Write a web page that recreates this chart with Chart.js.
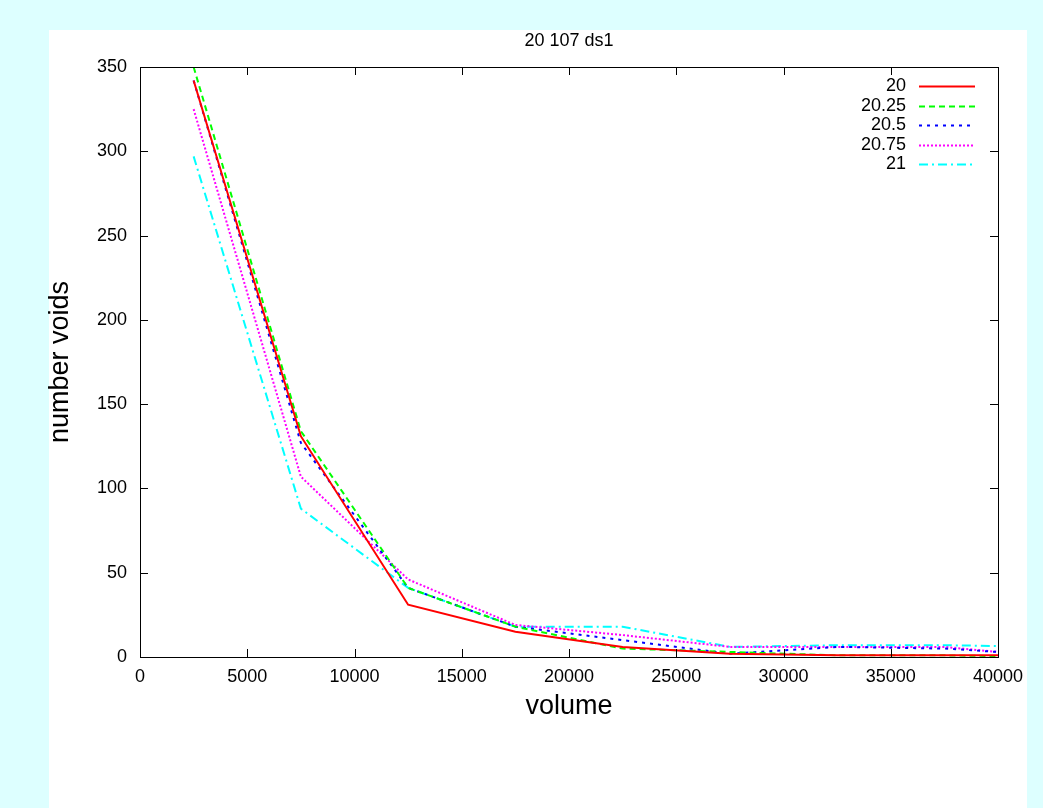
<!DOCTYPE html>
<html>
<head>
<meta charset="utf-8">
<script src="https://cdn.jsdelivr.net/npm/chart.js"></script>
<style>
  body { margin: 0; background: #ddffff; overflow: hidden; }
  #panel { position: absolute; left: 49px; top: 30px; width: 978px; height: 778px; background: #fff; }
  #myChart { position: absolute; left: 0; top: 0; }
</style>
</head>
<body>
<div id="panel"></div>
<canvas id="myChart" width="1043" height="808"></canvas>
<script>
// volumes (bin centres), last one sits past the axis end and gets clipped
const volumes = [2500, 7500, 12500, 17500, 22500, 27500, 32500, 37500, 42500];

const v20   = [342, 131, 31, 15, 6, 2, 1, 1, 1];
const v2025 = [350, 134, 41, 18, 5, 3, 1, 1, 0];
const v205  = [342, 127, 41, 18, 10, 2, 6, 5, 1];
const v2075 = [325, 107, 46, 19, 13, 6, 6, 6, 0];
const v21   = [297, 88, 41, 18, 18, 6, 7, 7, 6];

const seriesNames = ['20', '20.25', '20.5', '20.75', '21'];
const xTicks = [0, 5000, 10000, 15000, 20000, 25000, 30000, 35000, 40000];
const yTicks = [0, 50, 100, 150, 200, 250, 300, 350];

const FONT = '"Liberation Sans", Arial, sans-serif';

function pts(vals) {
  return volumes.map((v, i) => ({x: v, y: vals[i]}));
}

const styles = [
  {color: '#ff0000', dash: []},
  {color: '#00ff00', dash: [6, 4]},
  {color: '#0000ff', dash: [3, 5]},
  {color: '#ff00ff', dash: [2, 2]},
  {color: '#00ffff', dash: [9, 4, 2, 4]}
];
const allVals = [v20, v2025, v205, v2075, v21];

const datasets = allVals.map((vals, i) => ({
  label: seriesNames[i],
  data: pts(vals),
  borderColor: styles[i].color,
  borderDash: styles[i].dash,
  borderWidth: 2,
  pointRadius: 0,
  fill: false,
  tension: 0
}));

// box, inward ticks, title and gnuplot-ish legend
const gnuplotBits = {
  id: 'gnuplotBits',
  afterDraw(chart) {
    const ctx = chart.ctx;
    const a = chart.chartArea;
    const xs = chart.scales.x, ys = chart.scales.y;
    ctx.save();
    ctx.strokeStyle = '#000';
    ctx.lineWidth = 1;
    ctx.setLineDash([]);
    ctx.strokeRect(a.left + 0.5, a.top + 0.5, a.right - a.left, a.bottom - a.top);
    ctx.beginPath();
    xTicks.forEach(t => {
      const px = Math.round(xs.getPixelForValue(t)) + 0.5;
      ctx.moveTo(px, a.bottom); ctx.lineTo(px, a.bottom - 8);
      ctx.moveTo(px, a.top); ctx.lineTo(px, a.top + 8);
    });
    yTicks.forEach(t => {
      const py = Math.round(ys.getPixelForValue(t)) + 0.5;
      ctx.moveTo(a.left, py); ctx.lineTo(a.left + 8, py);
      ctx.moveTo(a.right, py); ctx.lineTo(a.right - 8, py);
    });
    ctx.stroke();

    ctx.fillStyle = '#000';
    ctx.font = '18px ' + FONT;
    ctx.textAlign = 'center';
    ctx.textBaseline = 'middle';
    ctx.fillText('20 107 ds1', (a.left + a.right) / 2, 41);

    ctx.textAlign = 'right';
    chart.data.datasets.forEach((ds, i) => {
      const y = 86 + i * 19.6;
      ctx.fillStyle = '#000';
      ctx.fillText(ds.label, 906, y);
      ctx.strokeStyle = ds.borderColor;
      ctx.lineWidth = 2;
      ctx.setLineDash(ds.borderDash);
      ctx.beginPath();
      ctx.moveTo(919, Math.round(y) + 0.5);
      ctx.lineTo(975, Math.round(y) + 0.5);
      ctx.stroke();
    });
    ctx.restore();
  }
};

new Chart('myChart', {
  type: 'line',
  data: {datasets: datasets},
  plugins: [gnuplotBits],
  options: {
    responsive: false,
    animation: false,
    layout: {padding: {top: 67, right: 45, left: 0, bottom: 0}},
    plugins: {legend: {display: false}, tooltip: {enabled: false}, title: {display: false}},
    scales: {
      x: {
        type: 'linear', min: 0, max: 40000,
        afterFit(s) { s.height = 151; },
        grid: {display: false},
        border: {display: false},
        ticks: {stepSize: 5000, padding: 1, color: '#000', font: {family: FONT, size: 18},
                maxRotation: 0, callback: v => String(v)},
        title: {display: true, text: 'volume', color: '#000', font: {family: FONT, size: 27},
                padding: {top: 0, bottom: 85}}
      },
      y: {
        min: 0, max: 350,
        afterFit(s) { s.width = 140; },
        grid: {display: false},
        border: {display: false},
        ticks: {stepSize: 50, padding: 5, color: '#000', font: {family: FONT, size: 18}},
        title: {display: true, text: 'number voids', color: '#000', font: {family: FONT, size: 27},
                padding: {top: 44, bottom: 0}}
      }
    }
  }
});
</script>
</body>
</html>
